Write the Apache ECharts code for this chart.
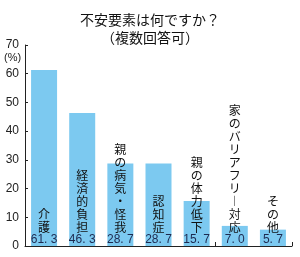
<!DOCTYPE html>
<html><head><meta charset="utf-8">
<script src="https://cdn.jsdelivr.net/npm/echarts@6/dist/echarts.min.js"></script>
<style>html,body{margin:0;padding:0;background:#fff}#c{width:300px;height:257px}</style>
</head><body><div id="c"></div>
<script>
const categories = ['介護', '経済的負担', '親の病気・怪我', '認知症', '親の体力低下', '家のバリアフリー対応', 'その他'];
const values = [61.3, 46.3, 28.7, 28.7, 15.7, 7.0, 5.7];
const yTicks = [0, 10, 20, 30, 40, 50, 60, 70];
const titleText = '不安要素は何ですか？';
const subText = '（複数回答可）';
const unitText = '(%)';

const chart = echarts.init(document.getElementById('c'), null, {renderer: 'canvas'});
const jp = '"Noto Sans CJK JP", "Noto Sans", sans-serif';
const num = '"Liberation Sans Narrow", "Liberation Sans", Arial, sans-serif';

function vert(s) {
  return s.split('').map(ch => ch === 'ー' ? '︱' : ch).join('\n');
}

chart.setOption({
  animation: false,
  title: [
    {text: titleText, left: 'center', top: 8, textStyle: {fontFamily: jp, fontSize: 14, fontWeight: 'normal', color: '#111'}},
    {text: subText, left: 'center', top: 26, textStyle: {fontFamily: jp, fontSize: 14, fontWeight: 'normal', color: '#111'}}
  ],
  graphic: [
    {type: 'text', left: 4, top: 52, style: {text: unitText, font: '11px ' + num, fill: '#222'}}
  ],
  grid: {left: 25, right: 8, top: 45, bottom: 11},
  xAxis: {
    type: 'category',
    data: categories,
    axisLine: {lineStyle: {color: '#222', width: 1}},
    axisTick: {show: true, inside: true, length: 4, lineStyle: {color: '#222'}},
    axisLabel: {show: false}
  },
  yAxis: {
    type: 'value',
    min: yTicks[0], max: yTicks[yTicks.length - 1], interval: 10,
    axisLine: {show: true, lineStyle: {color: '#222'}},
    axisTick: {show: true, inside: true, length: 3, lineStyle: {color: '#222'}},
    splitLine: {show: false},
    axisLabel: {fontFamily: num, fontSize: 12, color: '#222', margin: 6}
  },
  series: [{
    type: 'bar',
    data: values,
    barWidth: 26,
    itemStyle: {color: '#7cc9f0'},
    label: {
      show: true,
      position: 'insideBottom',
      distance: 0,
      formatter: p => '{c|' + vert(categories[p.dataIndex]) + '}\n{v|' + p.value.toFixed(1).replace('.', '. ') + '}',
      rich: {
        c: {fontFamily: jp, fontSize: 12, lineHeight: 13, color: '#111', align: 'center'},
        v: {fontFamily: num, fontSize: 12, lineHeight: 12, color: '#1d2a50', align: 'center'}
      }
    }
  }]
});
</script>
</body></html>
